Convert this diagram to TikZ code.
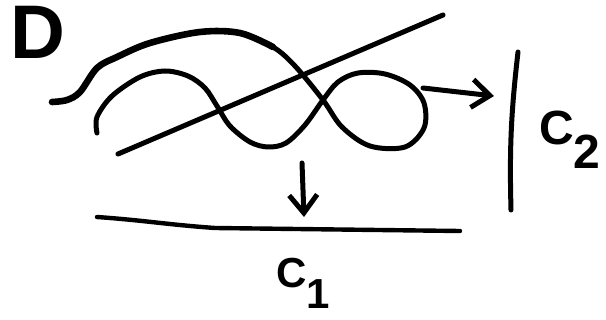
\documentclass[tikz,border=0pt]{standalone}
\usepackage{fontspec}
\setmainfont{Liberation Sans}
\usetikzlibrary{arrows.meta,positioning}
\definecolor{tinta}{HTML}{000000}
\tikzset{
  trazo/.style={tinta,line width=2.5pt,line cap=round,line join=round},
  flecha/.style={trazo,-{Straight Barb[length=9pt,width=14pt]}},
  letra/.style={tinta,inner sep=0pt,font=\bfseries\fontsize{24}{24}\selectfont}
}

\begin{document}
\begin{tikzpicture}[x=0.5pt,y=-0.5pt,line cap=round]
  \useasboundingbox (0,0) rectangle (606,320);
  % la curva D con su lazo
  \draw[trazo] plot[smooth,tension=0.55] coordinates {
      (52,102) (67,100) (80,92) (97,68) (117,57) (150,43) (200,32)
      (240,33) (273,47) (295,66) (323,100) (342,127) (370,146)
      (405,147) (424,128) (424,103) (410,85) (385,74) (358,73)
      (338,82) (323,100) (305,125) (286,143) (268,147) (250,142)
      (230,126) (217,106) (205,88) (188,76) (165,71) (140,77)
      (112,96) (97,117) (97,133)};
  \draw[trazo,line width=3.3pt] plot[smooth,tension=0.55] coordinates {
      (52,102) (67,100) (80,92) (97,68) (117,57) (150,43) (200,32)
      (240,33) (273,47)};
  % recta que corta
  \coordinate (R1) at (118,154);
  \coordinate (R2) at (443,15);
  \draw[trazo] (R1) -- (R2);
  % C_2
  \coordinate (V1) at (518,52);
  \coordinate (V2) at (511,210);
  \draw[trazo] (V1) to[bend right=4] (V2);
  % C_1
  \coordinate (H1) at (97,217);
  \coordinate (H2) at (215,228);
  \coordinate (H3) at (460,231);
  \draw[trazo,line width=2.2pt] (H1) to[out=-4,in=176] (H2) -- (H3);
  % proyecciones
  \coordinate (A1) at (423,88);
  \coordinate (A2) at (494,96);
  \draw[flecha] (A1) -- (A2);
  \coordinate (B1) at (302,163);
  \coordinate (B2) at (304,217);
  \draw[flecha] (B1) -- (B2);
  % etiquetas
  \node[letra,font=\bfseries\fontsize{38}{38}\selectfont] (D) at (38,32) {D};
  \node[letra] (C2) at (570,140) {C\raisebox{-0.5em}{2}};
  \node[letra,font=\bfseries\fontsize{21}{21}\selectfont] (C1) at (303,283) {C\raisebox{-0.5em}{1}};
\end{tikzpicture}
\end{document}
